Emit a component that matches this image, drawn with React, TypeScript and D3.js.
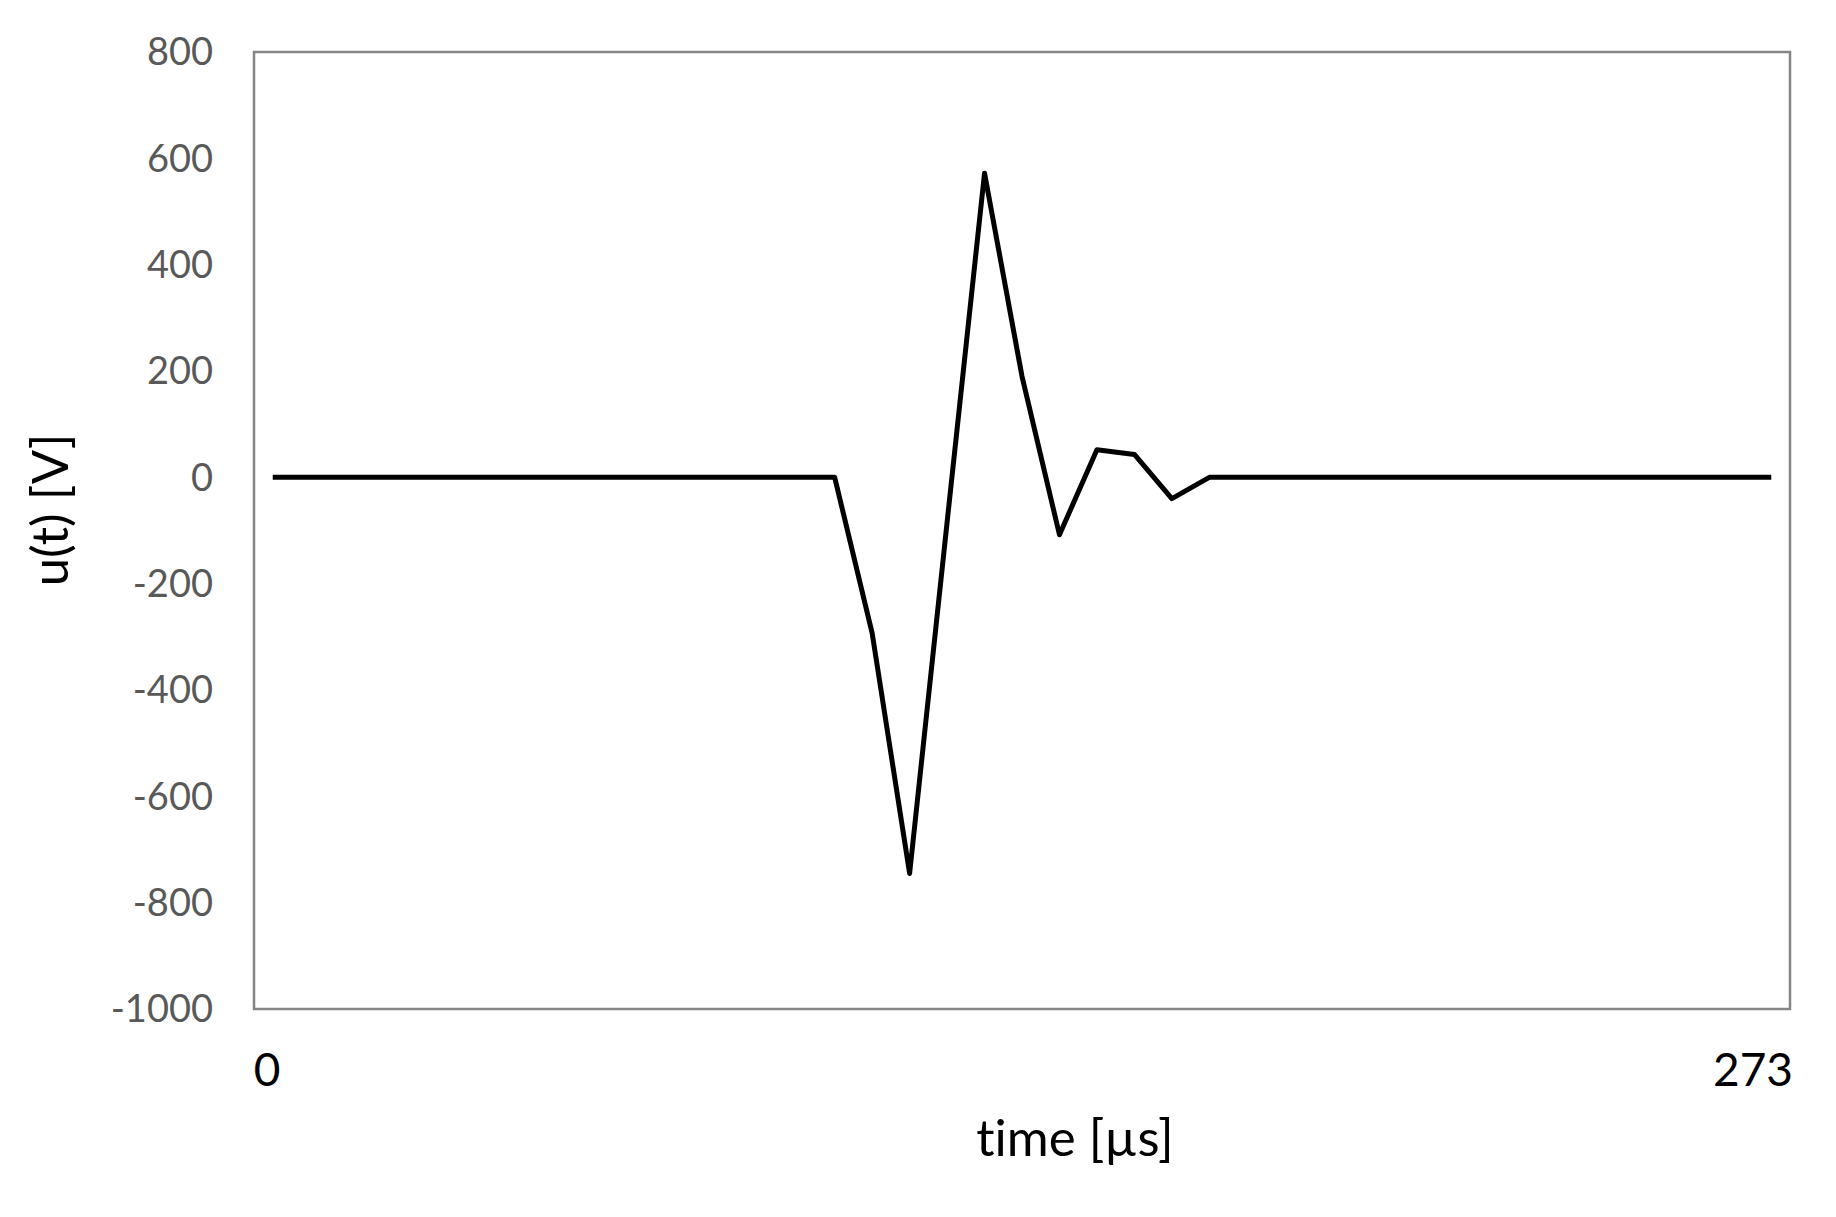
import React, { useEffect, useRef } from 'react';
import * as d3 from 'd3';

// sample voltages, one per time step (41 samples over 0..273 µs)
const voltage: number[] = [
  0, 0, 0, 0, 0, 0, 0, 0, 0, 0, 0, 0, 0, 0, 0, 0,
  -293, -745, -85, 572, 190, -108, 52, 43, -40,
  0, 0, 0, 0, 0, 0, 0, 0, 0, 0, 0, 0, 0, 0, 0, 0,
];
const yTicks: number[] = [-1000, -800, -600, -400, -200, 0, 200, 400, 600, 800];
const xLabels: string[] = ['0', '273'];
const xTitle = 'time [µs]';
const yTitle = 'u(t) [V]';

export default function App() {
  const ref = useRef<SVGSVGElement>(null);

  useEffect(() => {
    const width = 1836, height = 1217;
    const left = 254, right = 1790, top = 52, bottom = 1009;
    const font = 'Lato, Calibri, sans-serif';

    const svg = d3.select(ref.current);
    svg.selectAll('*').remove();

    // category style x axis: points sit in the middle of their bins
    const x = d3.scalePoint<number>()
      .domain(voltage.map((_, i) => i))
      .range([left, right])
      .padding(0.5);
    const y = d3.scaleLinear().domain([-1000, 800]).range([bottom, top]);

    svg.append('rect')
      .attr('width', width)
      .attr('height', height)
      .attr('fill', '#fff');

    // y tick labels
    svg.selectAll('text.ytick')
      .data(yTicks)
      .enter()
      .append('text')
      .attr('class', 'ytick')
      .attr('x', 213)
      .attr('y', (d) => y(d))
      .attr('dy', '0.35em')
      .attr('text-anchor', 'end')
      .attr('font-family', font)
      .attr('font-size', 38)
      .attr('fill', '#595959')
      .text((d) => d);

    // plot frame
    svg.append('rect')
      .attr('x', left)
      .attr('y', top)
      .attr('width', right - left)
      .attr('height', bottom - top)
      .attr('fill', 'none')
      .attr('stroke', '#858585')
      .attr('stroke-width', 2.5);

    const line = d3.line<number>()
      .x((_, i) => x(i) as number)
      .y((d) => y(d));

    svg.append('path')
      .datum(voltage)
      .attr('d', line)
      .attr('fill', 'none')
      .attr('stroke', '#000')
      .attr('stroke-width', 5)
      .attr('stroke-linejoin', 'round');

    // start / end labels under the axis
    svg.append('text')
      .attr('x', 267)
      .attr('y', 1086)
      .attr('text-anchor', 'middle')
      .attr('font-family', font)
      .attr('font-size', 46)
      .attr('fill', '#000')
      .text(xLabels[0]);
    svg.append('text')
      .attr('x', 1793)
      .attr('y', 1086)
      .attr('text-anchor', 'end')
      .attr('font-family', font)
      .attr('font-size', 46)
      .attr('fill', '#000')
      .text(xLabels[1]);

    svg.append('text')
      .attr('x', 1075)
      .attr('y', 1156)
      .attr('text-anchor', 'middle')
      .attr('font-family', font)
      .attr('font-size', 51)
      .attr('fill', '#000')
      .style('font-variant-ligatures', 'none')
      .text(xTitle);

    svg.append('text')
      .attr('transform', 'translate(68,510) rotate(-90)')
      .attr('text-anchor', 'middle')
      .attr('font-family', font)
      .attr('font-size', 51)
      .attr('fill', '#000')
      .style('font-variant-ligatures', 'none')
      .text(yTitle);
  }, []);

  return (
    <svg
      ref={ref}
      width={1836}
      height={1217}
      style={{ position: 'absolute', left: 0, top: 0 }}
    />
  );
}
